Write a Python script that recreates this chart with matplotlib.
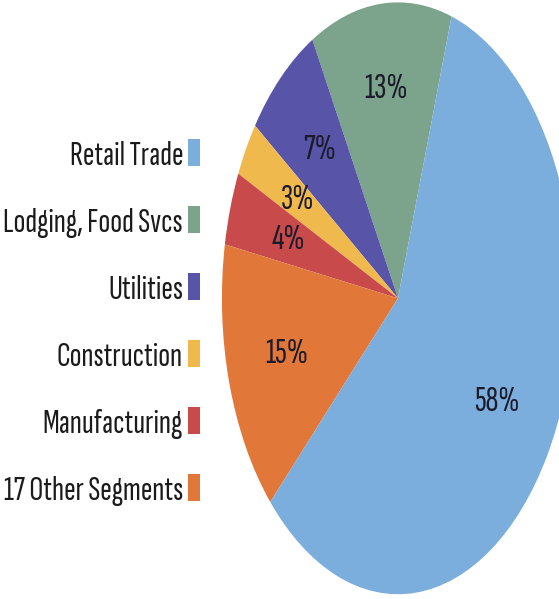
import numpy as np
import matplotlib.pyplot as plt
from matplotlib.patches import Patch

# segment shares, counter-clockwise starting at the top
segments = ['Lodging, Food Svcs', 'Utilities', 'Construction', 'Manufacturing', '17 Other Segments', 'Retail Trade']
shares = [13, 7, 3, 4, 15, 58]
colors = ['#7ca38c', '#5855a8', '#f0b94e', '#c84a4a', '#e2773a', '#7baedc']

# legend order as printed in the chart
legend_order = ['Retail Trade', 'Lodging, Food Svcs', 'Utilities', 'Construction', 'Manufacturing', '17 Other Segments']

# narrow face to mimic the squeezed Helvetica of the original
plt.rcParams['font.family'] = ['Sofia Sans Extra Condensed', 'Liberation Sans', 'DejaVu Sans']

fig = plt.figure(figsize=(5.59, 5.99), dpi=100)
ax = fig.add_axes([0.397, 0.008, 0.63, 0.988])

wedges, texts, autotexts = ax.pie(shares, colors=colors, startangle=72.3, counterclock=True,
                                  autopct='%d%%', pctdistance=0.67,
                                  textprops=dict(fontsize=26, color='#1b1b2b'))
ax.set_aspect('auto')   # the original is squeezed sideways, so keep the ellipse
ax.set_xlim(-1, 1)
ax.set_ylim(-1, 1)

# per-label distance from the centre (labels are not all on one ring)
label_r = [0.71, 0.67, 0.66, 0.65, 0.66, 0.66]
for w, t, r in zip(wedges, autotexts, label_r):
    mid = np.deg2rad((w.theta1 + w.theta2) / 2)
    t.set_position((r * np.cos(mid), r * np.sin(mid)))

handles = [Patch(facecolor=colors[segments.index(s)]) for s in legend_order]
fig.legend(handles, legend_order, loc='upper right', bbox_to_anchor=(0.358, 0.7673),
           markerfirst=False, frameon=False, fontsize=25, handlelength=0.346,
           handleheight=0.81, handletextpad=0.144, labelspacing=1.023,
           borderaxespad=0, borderpad=0, labelcolor='#1b1b1b')

fig.savefig('out.png', dpi=100)
